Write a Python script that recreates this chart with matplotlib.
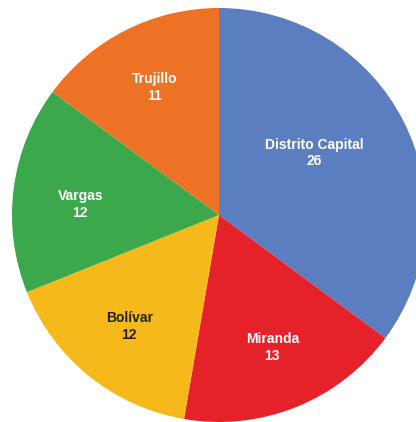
import numpy as np
import matplotlib.pyplot as plt

# Data
estados = ["Distrito Capital", "Miranda", "Bolívar", "Vargas", "Trujillo"]
valores = [26, 13, 12, 12, 11]
colores = ["#5A7EC0", "#E5222A", "#F6B91B", "#3BA94B", "#EE7226"]
color_texto = ["white", "white", "#222222", "white", "white"]

fig = plt.figure(figsize=(4.16, 4.22), dpi=100)
ax = fig.add_axes([0, 0, 1, 1])

wedges, _ = ax.pie(valores, colors=colores, startangle=90, counterclock=False,
                   radius=1.0, wedgeprops=dict(linewidth=0))

# label positions: mid-angle of each wedge at ~0.69 radius,
# with a couple of labels nudged like in the original
ajustes = {"Distrito Capital": (0.46, 0.30), "Vargas": (-0.67, 0.05)}
for i, w in enumerate(wedges):
    ang = np.deg2rad((w.theta1 + w.theta2) / 2)
    r = 0.69
    x, y = r * np.cos(ang), r * np.sin(ang)
    if estados[i] in ajustes:
        x, y = ajustes[estados[i]]
    ax.text(x, y, f"{estados[i]}\n{valores[i]}", ha="center", va="center",
            fontsize=10, fontweight="bold", color=color_texto[i],
            family="Liberation Sans", linespacing=1.25)

# the pie is cut slightly on the right side
ax.set_xlim(-219 / 207, (416 - 219) / 207)
ax.set_ylim(-(422 - 215) / 207, 215 / 207)
ax.axis("off")

fig.savefig("out.png", dpi=100)
